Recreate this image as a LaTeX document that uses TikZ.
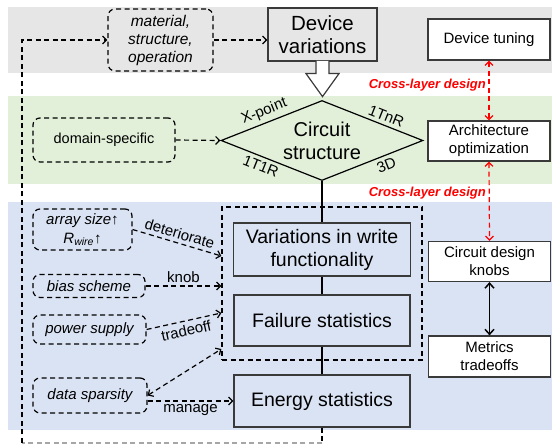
\documentclass[tikz,border=0pt]{standalone}
\usepackage{fontspec}
\setmainfont{Liberation Sans}
\usetikzlibrary{arrows.meta,shapes.geometric,calc}
\definecolor{bandgray}{HTML}{E7E6E6}
\definecolor{bandgreen}{HTML}{E2F0D9}
\definecolor{bandblue}{HTML}{DAE3F3}
\definecolor{boxline}{HTML}{3A3A3A}
\newcommand{\myfs}[2]{\fontsize{#1}{#2}\selectfont}
\tikzset{
  mainbox/.style={draw=boxline, line width=1.2pt, align=center, inner sep=0pt},
  rbox/.style={draw=boxline, fill=white, line width=1.2pt, align=center, inner sep=0pt,
    minimum width=122pt, minimum height=40pt, font=\myfs{15}{18}},
  dbox/.style={draw=black, line width=1.2pt, dash pattern=on 5pt off 3.5pt,
    rounded corners=7pt, align=center, inner sep=0pt},
  dline/.style={line width=1.2pt, dash pattern=on 5pt off 3.5pt},
  darr/.style={dline, -{Straight Barb[length=4pt,width=8pt]}},
  ddarr/.style={dline, {Straight Barb[length=4pt,width=8pt]}-{Straight Barb[length=4pt,width=8pt]}},
  rarr/.style={draw=red, line width=1.2pt, dash pattern=on 5pt off 3.5pt,
    {Straight Barb[length=4pt,width=8pt]}-{Straight Barb[length=4pt,width=8pt]}},
  barr/.style={line width=1.5pt,
    {Straight Barb[length=5pt,width=9pt]}-{Straight Barb[length=5pt,width=9pt]}},
  sline/.style={line width=1.6pt},
  lbl/.style={font=\myfs{15}{17}, inner sep=1.5pt},
  elbl/.style={font=\myfs{15}{17}, inner sep=3.5pt},
  rlbl/.style={font=\bfseries\itshape\myfs{13}{15}, text=red, inner sep=0pt},
}
\begin{document}
\begin{tikzpicture}[x=1pt,y=-1pt]
\useasboundingbox (0,0) rectangle (552,446);
% bands
\fill[bandgray] (8,7) rectangle (552,73);
\fill[bandgreen] (8,96) rectangle (552,184);
\fill[bandblue] (8,202) rectangle (552,430);

% device layer
\node[mainbox, fill=bandgray, minimum width=109pt, minimum height=53pt, font=\myfs{20.5}{23}] (dv) at (322.5,34.5) {Device\\variations};
\draw[line width=1.2pt, draw=boxline, fill=white]
  ($(dv.south)+(-6.5,-0.6)$) -- ($(dv.south)+(-6.5,12)$) -- ($(dv.south)+(-16.5,12)$)
  -- ($(dv.south)+(0,35)$) -- ($(dv.south)+(16.5,12)$) -- ($(dv.south)+(6.5,12)$)
  -- ($(dv.south)+(6.5,-0.6)$);
\node[dbox, minimum width=105pt, minimum height=62pt, font=\itshape\myfs{15.5}{18}] (mat) at (160.5,40) {material,\\structure,\\operation};
\draw[darr] (mat.east) -- (mat.east -| dv.west);
\node[rbox, minimum height=41pt] (dt) at (489,39.5) {Device tuning};

% circuit layer
\node[diamond, draw, line width=1.2pt, aspect=2.5, minimum width=202pt, minimum height=80pt,
  inner sep=0pt, align=center, font=\myfs{20}{23}] (cs) at (322,140.5) {Circuit\\structure};
\path (cs.west) -- (cs.north) node[pos=0.47, sloped, above, elbl] (l1) {X-point};
\path (cs.north) -- (cs.east) node[pos=0.6, sloped, above, elbl] (l2) {1TnR};
\path (cs.west) -- (cs.south) node[pos=0.43, sloped, below, elbl] (l3) {1T1R};
\path (cs.south) -- (cs.east) node[pos=0.6, sloped, below, elbl] (l4) {3D};
\node[dbox, minimum width=142pt, minimum height=44pt, font=\myfs{14.5}{17}] (dom) at (104,140) {domain-specific};
\draw[darr] (dom.east) -- (cs.west);
\node[rbox, font=\myfs{15}{18}] (ao) at (489,141) {Architecture\\optimization};

% red cross-layer arrows
\draw[rarr] (dt.south) -- (ao.north);
\node[rlbl, anchor=east] (cl1) at (486,85) {Cross-layer design};

% circuit design layer
\node[draw, line width=1.2pt, dash pattern=on 5pt off 3.5pt, minimum width=200pt, minimum height=153pt, inner sep=0pt] (grp) at (322,283.5) {};
\node[mainbox, fill=bandblue, minimum width=177pt, minimum height=53pt, font=\myfs{19.5}{23}] (vw) at (322,249.5) {Variations in write\\functionality};
\node[mainbox, fill=bandblue, minimum width=176pt, minimum height=51pt, font=\myfs{19.5}{23}] (fs) at (322,320.5) {Failure statistics};
\node[mainbox, fill=bandblue, minimum width=176pt, minimum height=52pt, font=\myfs{19.5}{23}] (en) at (322,401) {Energy statistics};
\draw[sline] (cs.south) -- (vw.north);
\draw[sline] (vw.south) -- (fs.north);
\draw[sline] (fs.south) -- (en.north);

\node[rbox] (cdk) at (489.5,261.5) {Circuit design\\knobs};
\node[rbox, minimum height=41pt] (mt) at (489.5,356.5) {Metrics\\tradeoffs};
\draw[rarr] (ao.south) -- (cdk.north);
\node[rlbl, anchor=east] (cl2) at (486,193) {Cross-layer design};
\draw[barr] (cdk.south) -- (mt.north);

% left knobs
\node[dbox, minimum width=99pt, minimum height=41pt, font=\itshape\myfs{15}{19}] (arr) at (82.5,229.5) {array size↑\\\textit{R}\textsubscript{\textit{wire}}↑};
\node[dbox, minimum width=112pt, minimum height=23pt, font=\itshape\myfs{15}{18}] (bias) at (89,286) {bias scheme};
\node[dbox, minimum width=113pt, minimum height=29pt, font=\itshape\myfs{15}{18}] (pow) at (89.5,329.5) {power supply};
\node[dbox, minimum width=114pt, minimum height=35pt, font=\itshape\myfs{15}{18}] (ds) at (90,395.5) {data sparsity};

\coordinate (g1) at (0,256);
\coordinate (g2) at (0,313);
\coordinate (g3) at (0,349);
\draw[darr] (arr.east) -- (grp.west |- g1) node[midway, sloped, above, lbl, inner sep=3.5pt] {deteriorate};
\draw[darr] (bias.east) -- (grp.west |- bias.east) node[midway, above, lbl, inner sep=2.5pt] {knob};
\draw[darr] (pow.east) -- (grp.west |- g2) node[midway, sloped, below, lbl, inner sep=3.5pt] {tradeoff};
\draw[ddarr] (ds.east) -- (grp.west |- g3);
\draw[darr] (ds.east |- en.west) -- (en.west) node[midway, below, lbl, inner sep=3pt] {manage};

% feedback loop
\coordinate (bl) at (22,443);
\draw[dline] (en.south) -- (en.south |- bl);
\draw[dline, draw=black!35] (en.south |- bl) -- (bl);
\draw[darr] (bl) |- (mat.west);
\end{tikzpicture}
\end{document}
